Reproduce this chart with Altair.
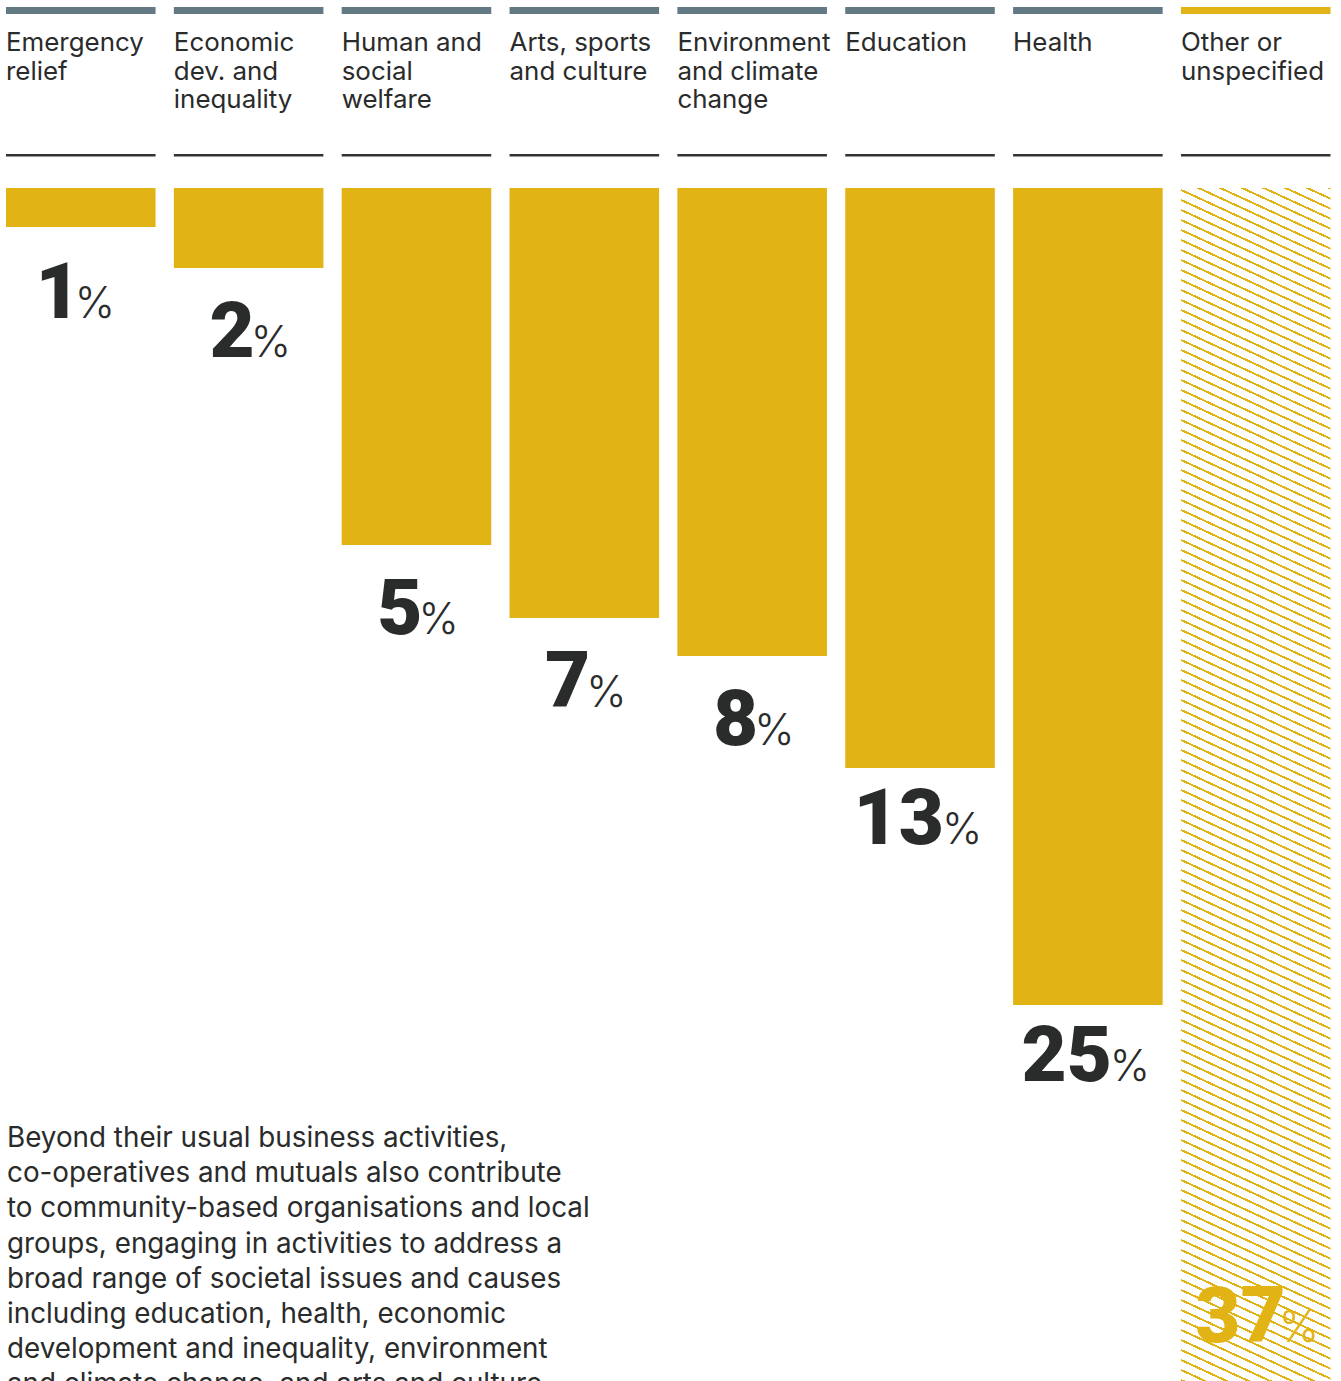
import altair as alt
import pandas as pd

# ---------------- data ----------------
categories = [
    "Emergency relief",
    "Economic dev. and inequality",
    "Human and social welfare",
    "Arts, sports and culture",
    "Environment and climate change",
    "Education",
    "Health",
    "Other or unspecified",
]
header_lines = [
    ["Emergency", "relief"],
    ["Economic", "dev. and", "inequality"],
    ["Human and", "social", "welfare"],
    ["Arts, sports", "and culture"],
    ["Environment", "and climate", "change"],
    ["Education"],
    ["Health"],
    ["Other or", "unspecified"],
]
shares = [1, 2, 5, 7, 8, 13, 25, 37]
paragraph_lines = [
    "Beyond their usual business activities,",
    "co-operatives and mutuals also contribute",
    "to community-based organisations and local",
    "groups, engaging in activities to address a",
    "broad range of societal issues and causes",
    "including education, health, economic",
    "development and inequality, environment",
    "and climate change, and arts and culture.",
]
OTHER = "Other or unspecified"

# ---------------- styles ----------------
GOLD = "#e2b314"
GREY = "#637a84"
INK = "#2a2b2b"
FONT = "Inter"
NUM_FONT = "Roboto"
W, H = 1341, 1381
BAR_TOP = 188
# designer's (non-linear) bar depths for each share, ending at the page bottom
y_domain = [0] + shares
y_range = [BAR_TOP, 227, 268, 545, 618, 656, 768, 1005, H]

X_RANGE = [6, 1330.5]
PAD_INNER = 0.109

df = pd.DataFrame({
    "category": categories,
    "header": ["\n".join(l) for l in header_lines],
    "share": shares,
})
df["num"] = df["share"].astype(str)

x_scale = alt.Scale(range=X_RANGE, paddingInner=PAD_INNER, paddingOuter=0)
y_scale = alt.Scale(domain=y_domain, range=y_range, nice=False, zero=False)


def X(**kw):
    return alt.X("category:N", sort=categories, scale=x_scale, axis=None, **kw)


Y = alt.Y("share:Q", scale=y_scale, axis=None)

base = alt.Chart(df)

top_bars = base.mark_bar().encode(
    x=X(),
    y=alt.value(7),
    y2=alt.value(14),
    color=alt.condition(alt.datum.category == OTHER, alt.value(GOLD), alt.value(GREY)),
)

headers = base.mark_text(
    align="left", baseline="alphabetic", font=FONT, fontSize=25.9,
    lineBreak="\n", lineHeight=28.5, color=INK,
).encode(x=X(bandPosition=0), y=alt.value(51), text="header:N")

separators = base.mark_bar(color="#333333").encode(
    x=X(), y=alt.value(154), y2=alt.value(156.5)
)

solid_bars = base.transform_filter(alt.datum.category != OTHER).mark_bar(
    color=GOLD
).encode(x=X(), y=Y, y2=alt.datum(0))

# hatched fill for the "other" bar built as a striped linear gradient
bw = (X_RANGE[1] - X_RANGE[0]) / (len(categories) - PAD_INNER) * (1 - PAD_INNER)
bh = H - BAR_TOP
slope = 0.46        # stripe slope (down to the right)
v_spacing = 10.0    # vertical distance between stripes
line_frac = 0.22    # stripe thickness as fraction of period
a = 1.0
b = -(a * bh) / (slope * bw)
s = (a - b) / (a * a + b * b)
x1, y1 = 0.0, 1.0
x2, y2 = x1 + s * a, y1 + s * b
n_periods = (bh + slope * bw) / v_spacing
stops = []
k = 0
while k / n_periods < 1.0:
    t0 = k / n_periods
    t1 = min(1.0, (k + line_frac) / n_periods)
    t2 = min(1.0, (k + 1) / n_periods)
    stops += [
        alt.GradientStop(offset=t0, color=GOLD),
        alt.GradientStop(offset=t1, color=GOLD),
        alt.GradientStop(offset=t1, color="#ffffff"),
        alt.GradientStop(offset=t2, color="#ffffff"),
    ]
    k += 1
hatch = alt.LinearGradient(gradient="linear", stops=stops, x1=x1, y1=y1, x2=x2, y2=y2)

hatched_bar = base.transform_filter(alt.datum.category == OTHER).mark_bar(
    fill=hatch
).encode(x=X(), y=Y, y2=alt.datum(0))


def labels(data_filter, dy, dx_num, dx_pct, color, y_enc):
    src = base.transform_filter(data_filter)
    num = src.mark_text(
        align="right", baseline="alphabetic", font=NUM_FONT, fontSize=78,
        fontWeight=900, dy=dy, dx=dx_num, color=color,
    ).encode(x=X(), y=y_enc, text="num:N")
    pct = src.mark_text(
        align="left", baseline="alphabetic", font=FONT, fontSize=43,
        fontWeight=300, dy=dy, dx=dx_pct, color=color,
    ).encode(x=X(), y=y_enc, text=alt.value("%"))
    return [num, pct]


ones = labels(alt.datum.share == 1, 91, 0, -6, INK, Y)
single = labels(
    (alt.datum.share < 10) & (alt.datum.share != 1) & (alt.datum.category != OTHER),
    89, 6, 2, INK, Y,
)
double = labels(
    (alt.datum.share >= 10) & (alt.datum.category != OTHER), 76, 24, 22, INK, Y
)
other = labels(alt.datum.category == OTHER, 0, 30, 23, GOLD, alt.value(1342))

para_df = pd.DataFrame({"text": ["\n".join(paragraph_lines)]})
paragraph = alt.Chart(para_df).mark_text(
    align="left", baseline="alphabetic", font=FONT, fontSize=27.8,
    lineBreak="\n", lineHeight=35.2, color=INK,
).encode(x=alt.value(7), y=alt.value(1147), text="text:N")

chart = alt.layer(
    top_bars, headers, separators, solid_bars, hatched_bar,
    *ones, *single, *double, *other, paragraph,
).properties(
    width=W, height=H, padding=0, autosize=alt.AutoSizeParams(type="none"),
    background="#ffffff",
).configure_view(stroke=None)

chart.save("out.html", embed_options={"renderer": "svg", "actions": False})
